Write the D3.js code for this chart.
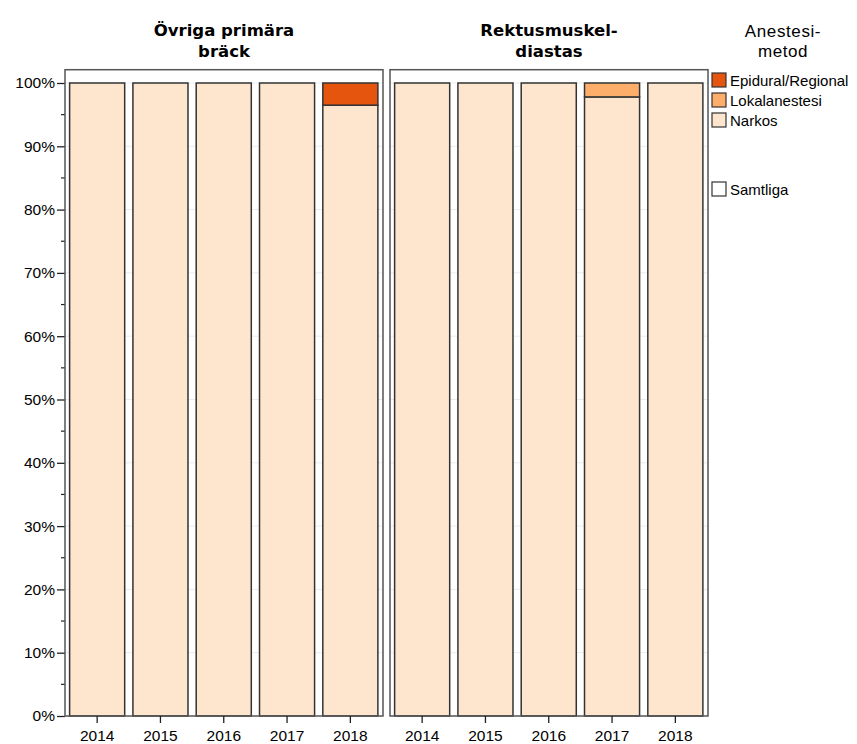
<!DOCTYPE html>
<html>
<head>
<meta charset="utf-8">
<script src="https://cdn.jsdelivr.net/npm/d3@7"></script>
<style>
  body { margin: 0; background: #fff; }
  text { font-family: "Liberation Sans", Arial, sans-serif; fill: #000; }
  .title { font-family: "DejaVu Sans", Verdana, sans-serif; font-weight: bold; font-size: 16.5px; }
</style>
</head>
<body>
<svg id="chart" width="857" height="744"></svg>
<script>
// data
const years = ['2014', '2015', '2016', '2017', '2018'];
const panelTitles = [['Övriga primära', 'bräck'], ['Rektusmuskel-', 'diastas']];
const methods = ['Narkos', 'Lokalanestesi', 'Epidural/Regional'];
const methodColors = ['#fee6ce', '#fdae6b', '#e6550d'];
// percent per year, one array per panel
const narkos = [[100, 100, 100, 100, 96.5], [100, 100, 100, 97.8, 100]];
const lokalanestesi = [[0, 0, 0, 0, 0], [0, 0, 0, 2.2, 0]];
const epidural = [[0, 0, 0, 0, 3.5], [0, 0, 0, 0, 0]];
const yTicks = [0, 0.1, 0.2, 0.3, 0.4, 0.5, 0.6, 0.7, 0.8, 0.9, 1];
const yMinor = [0.05, 0.15, 0.25, 0.35, 0.45, 0.55, 0.65, 0.75, 0.85, 0.95];

const svg = d3.select('#chart');

const panelX = [65, 390];
const panelW = 318;
const bottom = 716;

const yScale = d3.scaleLinear()
    .domain([0, 1])
    .range([bottom, 83]);
const frameTop = yScale(1.021);

// left axis
const yAxis = d3.axisLeft(yScale)
    .tickValues(yTicks)
    .tickSize(8)
    .tickPadding(2)
    .tickFormat(d3.format('.0%'));

const yAxisG = svg.append('g')
    .attr('transform', `translate(${panelX[0]},0)`)
    .call(yAxis);
yAxisG.select('.domain').remove();
yAxisG.selectAll('.tick line').attr('stroke', '#222').attr('stroke-width', 1.3);
yAxisG.selectAll('.tick text').style('font-size', '15.5px').attr('font-family', null);

yAxisG.selectAll('.minor')
    .data(yMinor)
    .join('line')
    .attr('class', 'minor')
    .attr('x1', -4).attr('x2', 0)
    .attr('y1', d => yScale(d)).attr('y2', d => yScale(d))
    .attr('stroke', '#222').attr('stroke-width', 1.2);

const stack = d3.stack().keys(methods);

panelX.forEach((x0, p) => {
    const rows = years.map((yr, i) => ({
        year: yr,
        Narkos: narkos[p][i] / 100,
        Lokalanestesi: lokalanestesi[p][i] / 100,
        'Epidural/Regional': epidural[p][i] / 100
    }));
    const series = stack(rows);

    const xScale = d3.scaleBand()
        .domain(years)
        .range([x0 + 0.5, x0 + panelW - 1])
        .paddingInner(0.13)
        .paddingOuter(0.065);

    const g = svg.append('g');

    // faint gridlines
    g.selectAll('.grid')
        .data(yTicks.slice(1))
        .join('line')
        .attr('class', 'grid')
        .attr('x1', x0).attr('x2', x0 + panelW)
        .attr('y1', d => yScale(d)).attr('y2', d => yScale(d))
        .attr('stroke', '#ececec').attr('stroke-width', 1);

    // stacked bars
    g.selectAll('.layer')
        .data(series)
        .join('g')
        .attr('class', 'layer')
        .attr('fill', (d, i) => methodColors[i])
        .selectAll('rect')
        .data(d => d.filter(s => s[1] - s[0] > 0))
        .join('rect')
        .attr('x', d => xScale(d.data.year))
        .attr('width', xScale.bandwidth())
        .attr('y', d => yScale(d[1]))
        .attr('height', d => yScale(d[0]) - yScale(d[1]))
        .attr('stroke', '#333')
        .attr('stroke-width', 1.5);

    // panel frame
    g.append('rect')
        .attr('x', x0).attr('y', frameTop)
        .attr('width', panelW).attr('height', bottom - frameTop)
        .attr('fill', 'none')
        .attr('stroke', '#555')
        .attr('stroke-width', 1.5);

    // x axis
    const xAxisG = g.append('g')
        .attr('transform', `translate(0,${bottom})`)
        .call(d3.axisBottom(xScale).tickSize(7).tickPadding(7));
    xAxisG.select('.domain').remove();
    xAxisG.selectAll('.tick line').attr('stroke', '#222').attr('stroke-width', 1.3);
    xAxisG.selectAll('.tick text').style('font-size', '15.5px').attr('font-family', null);

    // panel title
    const t = svg.append('text')
        .attr('class', 'title')
        .attr('text-anchor', 'middle')
        .attr('x', x0 + panelW / 2)
        .attr('y', 36);
    panelTitles[p].forEach((line, i) => {
        t.append('tspan')
            .attr('x', x0 + panelW / 2)
            .attr('dy', i === 0 ? 0 : 21)
            .text(line);
    });
});

// legend
const legend = svg.append('g');
const lt = legend.append('text')
    .attr('text-anchor', 'middle')
    .attr('x', 783)
    .attr('y', 37)
    .style('font-size', '17px')
    .style('letter-spacing', '0.6px');
['Anestesi-', 'metod'].forEach((line, i) => {
    lt.append('tspan').attr('x', 783).attr('dy', i === 0 ? 0 : 20).text(line);
});

const legendItems = [
    { label: 'Epidural/Regional', color: methodColors[2], y: 73 },
    { label: 'Lokalanestesi', color: methodColors[1], y: 93 },
    { label: 'Narkos', color: methodColors[0], y: 113 },
    { label: 'Samtliga', color: '#ffffff', y: 182 }
];
const li = legend.selectAll('.item')
    .data(legendItems)
    .join('g')
    .attr('class', 'item')
    .attr('transform', d => `translate(712,${d.y})`);
li.append('rect')
    .attr('width', 14).attr('height', 14)
    .attr('fill', d => d.color)
    .attr('stroke', '#333').attr('stroke-width', 1.2);
li.append('text')
    .attr('x', 18).attr('y', 12.5)
    .style('font-size', '15px')
    .text(d => d.label);
</script>
</body>
</html>
